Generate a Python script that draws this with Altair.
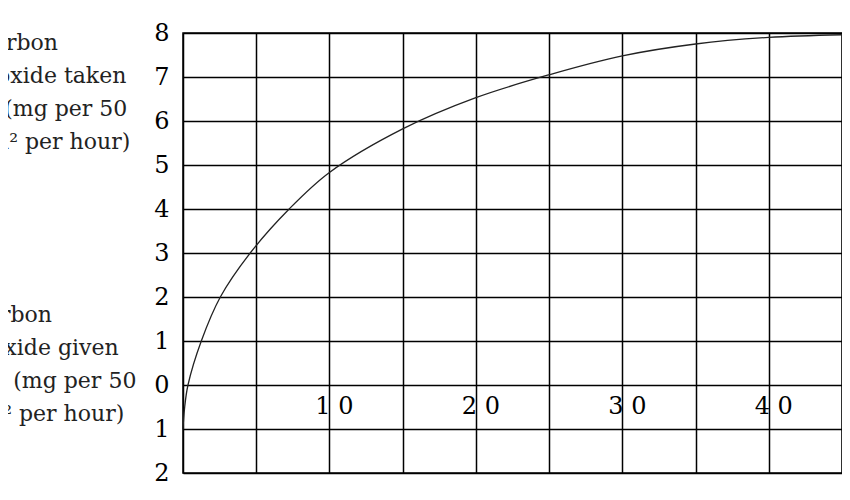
import altair as alt
import pandas as pd

# Curve
light_x = [0, 0.1, 0.34, 1.25, 2.55, 4.59, 7.25, 10, 15, 20, 25, 30, 35, 40, 45]
co2_y = [-1, -0.55, 0, 1, 2, 3, 4, 4.83, 5.82, 6.53, 7.05, 7.48, 7.75, 7.9, 7.96]

# x tick labels drawn inside the grid (between 0 and -1 rows)
xlab_vals = [10, 20, 30, 40]
xlab_text = ["1 0", "2 0", "3 0", "4 0"]
xlab_row = [-0.5, -0.5, -0.5, -0.5]

x_grid = [0, 5, 10, 15, 20, 25, 30, 35, 40, 45]
y_ticks = [-2, -1, 0, 1, 2, 3, 4, 5, 6, 7, 8]

taken_lines = "Carbon\ndioxide taken\nin (mg per 50\ncm\u00b2 per hour)"
given_lines = "Carbon\ndioxide given\nout (mg per 50\ncm\u00b2 per hour)"

FONT = "DejaVu Serif"

curve_df = pd.DataFrame({"x": light_x, "y": co2_y})
lab_df = pd.DataFrame({"x": xlab_vals, "y": xlab_row, "t": xlab_text})

xscale = alt.Scale(domain=[0, 45], nice=False, zero=False)
yscale = alt.Scale(domain=[-2, 8], nice=False, zero=False)

x_axis = alt.Axis(values=x_grid, labels=False, ticks=False, domain=False, title=None,
                  grid=True, gridColor="black", gridOpacity=1, gridWidth=1.5)
y_axis = alt.Axis(values=y_ticks, ticks=False, domain=False, title=None,
                  grid=True, gridColor="black", gridOpacity=1, gridWidth=1.5,
                  labelExpr="'' + abs(datum.value)", labelFont=FONT, labelFontSize=24,
                  labelColor="black", labelPadding=14, labelFlush=False)

line = alt.Chart(curve_df).mark_line(color="#222222", strokeWidth=1.3, interpolate="catmull-rom").encode(
    x=alt.X("x:Q", scale=xscale, axis=x_axis),
    y=alt.Y("y:Q", scale=yscale, axis=y_axis),
)

xlabels = alt.Chart(lab_df).mark_text(font=FONT, fontSize=24, color="black",
                                       align="center", baseline="middle", dx=5).encode(
    x=alt.X("x:Q", scale=xscale),
    y=alt.Y("y:Q", scale=yscale),
    text="t:N",
)

taken = alt.Chart(pd.DataFrame({"t": [taken_lines]})).mark_text(
    font=FONT, fontSize=22, color="#222222", align="left", baseline="alphabetic",
    lineBreak="\n", lineHeight=33).encode(
    x=alt.value(-207), y=alt.value(17), text="t:N")

given = alt.Chart(pd.DataFrame({"t": [given_lines]})).mark_text(
    font=FONT, fontSize=22, color="#222222", align="left", baseline="alphabetic",
    lineBreak="\n", lineHeight=33).encode(
    x=alt.value(-213), y=alt.value(289), text="t:N")

chart = alt.layer(line, xlabels, taken, given).properties(
    width=659, height=440,
    autosize=alt.AutoSizeParams(type="none"),
    padding={"left": 175, "top": 25, "right": 0, "bottom": 18},
).configure_view(stroke="black", strokeWidth=1.5)

chart.save("out.html", embed_options={"renderer": "svg", "actions": False})
